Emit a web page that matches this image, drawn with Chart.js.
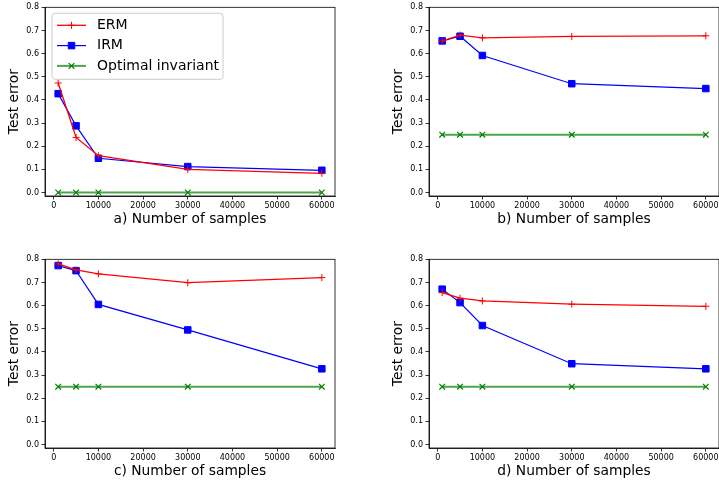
<!DOCTYPE html>
<html><head><meta charset="utf-8">
<script src="https://cdn.jsdelivr.net/npm/chart.js"></script>
<style>
html,body{margin:0;padding:0;background:#fff;width:719px;height:482px;overflow:hidden;position:relative;}
.p{position:absolute;width:360px;height:241px;}
canvas{display:block;}
</style></head><body>
<div class="p" style="left:0px;top:0px"><canvas id="ca" width="360" height="241"></canvas></div>
<div class="p" style="left:384px;top:0px"><canvas id="cb" width="360" height="241"></canvas></div>
<div class="p" style="left:0px;top:252px"><canvas id="cc" width="360" height="241"></canvas></div>
<div class="p" style="left:384px;top:252px"><canvas id="cd" width="360" height="241"></canvas></div>
<script>
// ---- data ----
const samples = [1000, 5000, 10000, 30000, 60000];
const ermA = [0.473, 0.238, 0.159, 0.100, 0.083];
const irmA = [0.427, 0.288, 0.148, 0.112, 0.096];
const optA = [0.0, 0.0, 0.0, 0.0, 0.0];
const ermB = [0.654, 0.680, 0.668, 0.674, 0.677];
const irmB = [0.655, 0.675, 0.592, 0.470, 0.449];
const optB = [0.25, 0.25, 0.25, 0.25, 0.25];
const ermC = [0.780, 0.754, 0.737, 0.699, 0.721];
const irmC = [0.773, 0.751, 0.605, 0.495, 0.327];
const optC = [0.25, 0.25, 0.25, 0.25, 0.25];
const ermD = [0.656, 0.632, 0.620, 0.606, 0.597];
const irmD = [0.671, 0.613, 0.514, 0.349, 0.327];
const optD = [0.25, 0.25, 0.25, 0.25, 0.25];
const seriesNames = ['ERM', 'IRM', 'Optimal invariant'];
const panelTitles = ['a) Number of samples', 'b) Number of samples', 'c) Number of samples', 'd) Number of samples'];
const yTitle = 'Test error';
const xTicks = [0, 10000, 20000, 30000, 40000, 50000, 60000];
const yTicks = [0.0, 0.1, 0.2, 0.3, 0.4, 0.5, 0.6, 0.7, 0.8];

// ---- rendering ----
Chart.defaults.font.family = "'DejaVu Sans', sans-serif";
Chart.defaults.color = '#000';

const styles = [
  {borderColor: '#ff0000', backgroundColor: '#ff0000', borderWidth: 1.3, pointStyle: 'cross', pointRadius: 3.5, pointBorderWidth: 1, pointBorderColor: '#ff0000'},
  {borderColor: '#0000ff', backgroundColor: '#0000ff', borderWidth: 1.2, pointStyle: 'rect', pointRadius: 4.6, pointBorderWidth: 1, pointBorderColor: '#0000ff', pointBackgroundColor: '#0000ff'},
  {borderColor: 'rgba(0,128,0,0.7)', backgroundColor: '#008000', borderWidth: 2, pointStyle: 'crossRot', pointRadius: 4, pointBorderWidth: 1.2, pointBorderColor: '#008000'}
];

function pts(arr) { return samples.map((x, i) => ({x: x, y: arr[i]})); }

const framePlugin = {
  id: 'frame',
  afterDraw(chart) {
    const a = chart.chartArea, ctx = chart.ctx;
    ctx.save();
    ctx.strokeStyle = '#000';
    ctx.lineWidth = 0.8;
    ctx.strokeRect(a.left, a.top, a.right - a.left, a.bottom - a.top);
    ctx.restore();
  }
};

function drawMarker(ctx, st, x, y) {
  const r = st.pointRadius;
  ctx.save();
  ctx.strokeStyle = st.pointBorderColor;
  ctx.lineWidth = st.pointBorderWidth;
  ctx.beginPath();
  if (st.pointStyle === 'rect') {
    const s = Math.SQRT1_2 * r;
    ctx.fillStyle = st.pointBackgroundColor;
    ctx.rect(x - s, y - s, 2 * s, 2 * s);
    ctx.fill(); ctx.stroke();
  } else if (st.pointStyle === 'cross') {
    ctx.moveTo(x - r, y); ctx.lineTo(x + r, y);
    ctx.moveTo(x, y - r); ctx.lineTo(x, y + r);
    ctx.stroke();
  } else {
    const o = Math.SQRT1_2 * r;
    ctx.moveTo(x - o, y - o); ctx.lineTo(x + o, y + o);
    ctx.moveTo(x - o, y + o); ctx.lineTo(x + o, y - o);
    ctx.stroke();
  }
  ctx.restore();
}

const legendPlugin = {
  id: 'mplLegend',
  afterDatasetsDraw(chart, args, opts) {
    if (!opts || !opts.show) return;
    const a = chart.chartArea, ctx = chart.ctx;
    const fx = a.left + 7, fy = a.top + 6, fw = 171, fh = 66;
    ctx.save();
    ctx.beginPath();
    if (ctx.roundRect) ctx.roundRect(fx, fy, fw, fh, 3); else ctx.rect(fx, fy, fw, fh);
    ctx.fillStyle = 'rgba(255,255,255,0.8)';
    ctx.fill();
    ctx.strokeStyle = '#cccccc';
    ctx.lineWidth = 1;
    ctx.stroke();
    chart.data.datasets.forEach((ds, i) => {
      const st = styles[i];
      const cy = fy + 12 + i * 20.3;
      ctx.beginPath();
      ctx.strokeStyle = st.borderColor;
      ctx.lineWidth = st.borderWidth;
      ctx.moveTo(fx + 5, cy); ctx.lineTo(fx + 34, cy);
      ctx.stroke();
      drawMarker(ctx, st, fx + 19.5, cy);
      ctx.fillStyle = '#000';
      ctx.font = "14px 'DejaVu Sans', sans-serif";
      ctx.textBaseline = 'middle';
      ctx.textAlign = 'left';
      ctx.fillText(ds.label, fx + 45, cy);
    });
    ctx.restore();
  }
};

function makeChart(id, erm, irm, opt, title, showLegend) {
  const series = [erm, irm, opt];
  new Chart(document.getElementById(id), {
    type: 'line',
    data: {
      datasets: series.map((arr, i) => Object.assign({label: seriesNames[i], data: pts(arr), fill: false, tension: 0}, styles[i]))
    },
    options: {
      responsive: false,
      animation: false,
      devicePixelRatio: 1,
      layout: {padding: {left: 0, top: 7, right: 25, bottom: 0}},
      plugins: {legend: {display: false}, tooltip: {enabled: false}, mplLegend: {show: showLegend}},
      scales: {
        x: {
          type: 'linear', min: -1950, max: 62950,
          afterBuildTicks: s => { s.ticks = xTicks.map(v => ({value: v})); },
          afterFit: s => { s.height = 45; },
          ticks: {callback: v => String(v), font: {size: 8}, color: '#000', padding: 1.5, maxRotation: 0, autoSkip: false},
          grid: {drawOnChartArea: false, drawTicks: true, tickLength: 3.5, color: '#000', lineWidth: 0.8},
          border: {display: true, color: '#000', width: 0.8},
          title: {display: true, text: title, font: {size: 13.8}, color: '#000', padding: {top: 0, bottom: 13}}
        },
        y: {
          type: 'linear', min: -0.015, max: 0.8,
          afterBuildTicks: s => { s.ticks = yTicks.map(v => ({value: v})); },
          afterFit: s => { s.width = 45; },
          ticks: {callback: v => v.toFixed(1), font: {size: 8}, color: '#000', padding: 2.5, autoSkip: false},
          grid: {drawOnChartArea: false, drawTicks: true, tickLength: 3.5, color: '#000', lineWidth: 0.8},
          border: {display: true, color: '#000', width: 0.8},
          title: {display: true, text: yTitle, font: {size: 13.8}, color: '#000', padding: {top: 6.6, bottom: 0}}
        }
      }
    },
    plugins: [framePlugin, legendPlugin]
  });
}

makeChart('ca', ermA, irmA, optA, panelTitles[0], true);
makeChart('cb', ermB, irmB, optB, panelTitles[1], false);
makeChart('cc', ermC, irmC, optC, panelTitles[2], false);
makeChart('cd', ermD, irmD, optD, panelTitles[3], false);
</script>
</body></html>
